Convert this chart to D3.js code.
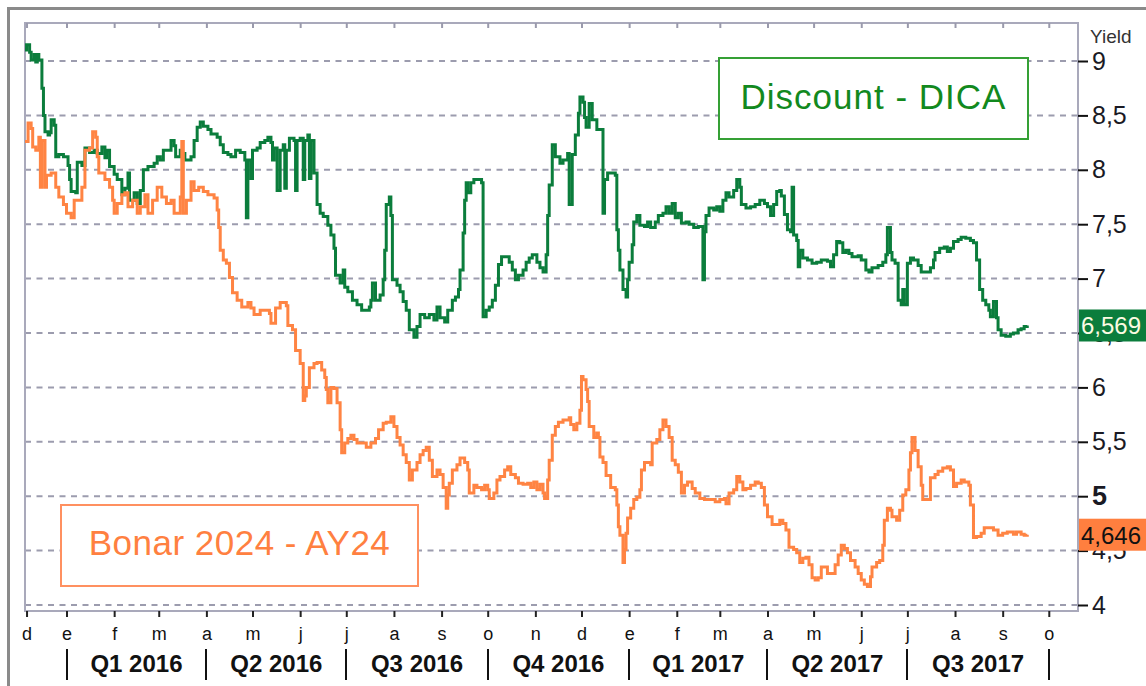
<!DOCTYPE html>
<html>
<head>
<meta charset="utf-8">
<script src="https://cdn.jsdelivr.net/npm/d3@7"></script>
<style>
  body { margin: 0; background: #fff; }
  svg { display: block; font-family: "Liberation Sans", Arial, sans-serif; }
</style>
</head>
<body>
<svg id="svg" width="1146" height="686"></svg>
<script>
/*global d3*/

// [days from 1 Jan 2016, yield %]
const dica = [[-27,9.10],[-26,9.15],[-24,9.08],[-23,9.01],[-21,9.06],[-20,8.99],[-19,9.06],[-18,9.01],[-16,8.75],[-15,8.50],[-14,8.35],[-12,8.32],[-11,8.34],[-10,8.46],[-8,8.41],[-7,8.12],[-5,8.14],[-2,8.12],[1,8.04],[2,7.91],[3,7.80],[6,7.79],[7,8.07],[10,8.04],[12,8.20],[15,8.16],[18,8.18],[20,8.15],[23,8.21],[25,8.11],[26,8.18],[28,8.03],[31,7.96],[33,7.91],[36,7.77],[38,7.83],[40,7.97],[41,7.72],[44,7.79],[46,7.69],[48,7.81],[50,8.00],[53,8.03],[57,8.06],[59,8.12],[61,8.09],[63,8.18],[66,8.18],[68,8.27],[70,8.22],[71,8.12],[74,8.18],[75,8.15],[77,8.09],[81,8.12],[83,8.27],[85,8.39],[87,8.44],[89,8.40],[92,8.37],[94,8.33],[98,8.30],[100,8.23],[102,8.16],[105,8.14],[107,8.12],[110,8.18],[113,8.16],[115,8.16],[116,8.09],[117,7.56],[118,8.09],[120,7.92],[121,8.18],[124,8.20],[126,8.25],[129,8.27],[131,8.30],[133,8.25],[134,8.09],[135,8.20],[137,7.81],[139,8.18],[141,8.23],[142,7.83],[143,8.18],[145,8.29],[148,8.27],[149,7.81],[150,8.27],[152,8.29],[154,7.91],[155,8.27],[157,8.32],[158,7.92],[159,8.27],[161,7.97],[163,7.68],[165,7.60],[167,7.57],[170,7.49],[172,7.40],[174,7.28],[175,7.03],[178,6.96],[180,7.08],[181,6.92],[183,6.88],[186,6.80],[189,6.76],[192,6.71],[195,6.71],[197,6.74],[198,6.80],[199,6.96],[201,6.80],[204,6.85],[206,6.99],[207,7.26],[208,7.68],[210,7.75],[211,7.58],[212,6.99],[215,6.94],[217,6.88],[219,6.79],[221,6.71],[223,6.53],[226,6.46],[228,6.56],[230,6.67],[233,6.64],[236,6.67],[239,6.62],[241,6.74],[243,6.64],[246,6.60],[248,6.71],[251,6.80],[253,6.83],[255,6.90],[256,7.08],[258,7.42],[259,7.72],[260,7.88],[261,7.79],[263,7.88],[265,7.91],[267,7.91],[270,7.88],[271,6.65],[273,6.71],[275,6.74],[277,6.80],[279,6.94],[281,7.13],[283,7.20],[286,7.20],[288,7.15],[290,7.08],[292,6.99],[294,7.03],[297,7.08],[299,7.15],[301,7.19],[303,7.22],[306,7.15],[308,7.10],[310,7.06],[312,7.22],[313,7.58],[314,7.86],[316,8.23],[318,8.12],[321,8.06],[323,8.09],[326,8.15],[327,7.68],[329,8.14],[331,8.32],[333,8.52],[334,8.67],[336,8.62],[337,8.48],[338,8.39],[340,8.61],[342,8.46],[345,8.37],[347,8.37],[349,7.60],[350,7.91],[352,7.97],[356,7.97],[357,7.95],[358,7.45],[359,7.26],[360,7.08],[362,6.90],[364,6.83],[365,6.99],[366,7.15],[368,7.31],[369,7.52],[371,7.58],[373,7.49],[376,7.48],[378,7.52],[380,7.47],[383,7.52],[385,7.58],[388,7.60],[390,7.66],[392,7.60],[394,7.69],[396,7.56],[398,7.60],[400,7.51],[403,7.52],[405,7.50],[408,7.47],[411,7.48],[413,7.48],[414,6.99],[415,7.43],[416,7.58],[418,7.65],[421,7.63],[423,7.66],[425,7.62],[427,7.72],[429,7.79],[431,7.75],[434,7.81],[436,7.91],[438,7.84],[439,7.68],[442,7.65],[445,7.66],[448,7.68],[451,7.72],[454,7.69],[456,7.66],[458,7.58],[460,7.68],[462,7.80],[464,7.81],[465,7.76],[467,7.59],[469,7.45],[471,7.43],[472,7.84],[473,7.40],[475,7.35],[476,7.11],[477,7.26],[479,7.19],[482,7.17],[485,7.14],[488,7.15],[491,7.17],[495,7.16],[497,7.11],[499,7.22],[501,7.34],[503,7.33],[505,7.24],[507,7.26],[509,7.23],[511,7.20],[515,7.21],[517,7.17],[520,7.08],[522,7.06],[524,7.10],[528,7.12],[531,7.15],[533,7.22],[534,7.47],[536,7.24],[537,7.17],[539,7.14],[541,6.80],[543,6.76],[544,6.90],[545,6.76],[547,7.14],[549,7.19],[551,7.17],[554,7.12],[556,7.06],[559,7.06],[562,7.10],[564,7.17],[565,7.24],[568,7.28],[571,7.29],[573,7.25],[575,7.28],[577,7.34],[580,7.36],[582,7.38],[585,7.37],[588,7.35],[590,7.33],[592,7.17],[594,6.90],[596,6.80],[598,6.76],[600,6.71],[601,6.65],[603,6.79],[605,6.64],[606,6.53],[608,6.48],[611,6.47],[614,6.49],[616,6.50],[619,6.53],[621,6.54],[623,6.56],[625,6.569]];

const ay24 = [[-27,8.26],[-25,8.43],[-23,8.38],[-22,8.21],[-20,8.18],[-18,8.30],[-17,7.84],[-16,8.27],[-14,7.84],[-13,7.95],[-10,7.97],[-7,7.84],[-5,7.75],[-2,7.68],[0,7.60],[3,7.56],[5,7.72],[8,7.72],[10,7.84],[12,8.18],[15,8.20],[17,8.35],[19,8.30],[20,8.12],[21,7.97],[25,7.91],[28,7.84],[30,7.72],[31,7.60],[33,7.69],[36,7.77],[38,7.79],[40,7.66],[43,7.72],[46,7.60],[48,7.66],[51,7.77],[53,7.60],[56,7.72],[59,7.84],[62,7.75],[65,7.69],[68,7.72],[70,7.60],[74,7.75],[75,8.26],[76,7.60],[78,7.72],[81,7.89],[83,7.81],[86,7.84],[89,7.80],[92,7.77],[96,7.74],[98,7.63],[99,7.47],[100,7.26],[102,7.17],[104,7.14],[106,7.01],[108,6.87],[111,6.80],[114,6.74],[118,6.78],[120,6.73],[122,6.67],[126,6.71],[129,6.71],[132,6.68],[133,6.59],[136,6.73],[139,6.78],[143,6.75],[144,6.57],[147,6.53],[149,6.34],[152,6.22],[154,5.88],[155,5.92],[156,6.00],[158,6.18],[161,6.22],[163,6.23],[166,6.16],[168,6.09],[169,5.98],[170,5.86],[172,6.00],[174,5.99],[176,5.86],[178,5.61],[179,5.40],[181,5.49],[183,5.53],[185,5.56],[187,5.52],[189,5.49],[193,5.49],[195,5.45],[198,5.49],[201,5.53],[203,5.61],[206,5.67],[208,5.68],[211,5.73],[213,5.64],[215,5.54],[217,5.47],[219,5.38],[221,5.31],[223,5.15],[225,5.24],[228,5.31],[230,5.38],[232,5.42],[234,5.45],[236,5.33],[238,5.18],[241,5.24],[243,5.20],[245,5.08],[247,4.89],[248,5.01],[249,5.12],[251,5.24],[254,5.29],[256,5.35],[259,5.31],[261,5.24],[262,5.03],[265,5.10],[267,5.08],[270,5.06],[272,5.10],[274,5.06],[275,4.98],[278,5.03],[280,5.15],[282,5.18],[285,5.24],[287,5.27],[289,5.20],[292,5.17],[294,5.12],[297,5.11],[300,5.12],[302,5.08],[304,5.13],[306,5.06],[308,5.11],[310,5.03],[311,4.98],[313,5.15],[314,5.33],[316,5.56],[318,5.64],[320,5.68],[323,5.70],[327,5.72],[328,5.66],[330,5.61],[332,5.67],[334,5.79],[335,6.10],[336,6.07],[338,5.98],[339,5.87],[340,5.64],[343,5.54],[345,5.58],[346,5.54],[347,5.36],[349,5.31],[351,5.19],[354,5.08],[357,5.06],[358,4.92],[359,4.72],[360,4.64],[362,4.39],[363,4.51],[364,4.66],[365,4.80],[367,4.89],[369,4.97],[371,4.99],[373,5.06],[374,5.24],[376,5.31],[378,5.31],[380,5.29],[381,5.49],[384,5.52],[386,5.61],[388,5.70],[390,5.64],[392,5.54],[394,5.33],[396,5.29],[398,5.22],[400,5.03],[402,5.10],[404,5.13],[407,5.07],[409,5.03],[412,4.98],[415,4.97],[418,4.97],[422,4.95],[425,4.97],[428,4.98],[429,4.93],[431,5.03],[434,5.06],[436,5.18],[438,5.13],[440,5.06],[442,5.07],[445,5.10],[448,5.13],[450,5.12],[452,5.08],[454,4.92],[456,4.81],[459,4.74],[461,4.74],[464,4.78],[466,4.75],[468,4.69],[470,4.53],[473,4.51],[475,4.48],[477,4.39],[479,4.43],[481,4.44],[483,4.37],[485,4.25],[487,4.23],[489,4.25],[491,4.35],[493,4.35],[495,4.29],[498,4.29],[500,4.37],[502,4.46],[504,4.55],[506,4.52],[508,4.48],[510,4.41],[513,4.35],[515,4.29],[517,4.23],[519,4.19],[521,4.17],[523,4.26],[524,4.35],[527,4.39],[529,4.41],[531,4.55],[532,4.78],[534,4.89],[536,4.87],[537,4.81],[540,4.78],[542,4.87],[544,5.01],[546,5.06],[548,5.24],[549,5.40],[550,5.54],[552,5.42],[554,5.27],[556,5.10],[557,4.97],[560,4.97],[562,5.17],[565,5.20],[567,5.23],[570,5.26],[573,5.27],[575,5.24],[577,5.09],[579,5.12],[582,5.15],[584,5.13],[587,5.10],[588,4.92],[590,4.62],[592,4.63],[595,4.66],[597,4.71],[601,4.71],[603,4.69],[606,4.64],[609,4.66],[612,4.67],[616,4.65],[618,4.67],[621,4.65],[623,4.64],[625,4.646]];

const yTicks = [4, 4.5, 5, 5.5, 6, 6.5, 7, 7.5, 8, 8.5, 9];
const monthInitials = ["e", "f", "m", "a", "m", "j", "j", "a", "s", "o", "n", "d"];
const quarterLabels = ["Q1 2016", "Q2 2016", "Q3 2016", "Q4 2016", "Q1 2017", "Q2 2017", "Q3 2017"];
const seriesNames = ["Discount - DICA", "Bonar 2024 - AY24"];

const svg = d3.select("#svg");
const width = 1146;
const height = 686;
const plot = {left: 25, top: 23, right: 1078, bottom: 611};

const green = "#0b7d3c";
const orange = "#ff8443";

const base = new Date(2016, 0, 1);
const toDate = d => d3.timeDay.offset(base, d);

const x = d3.scaleTime()
    .domain([new Date(2015, 11, 5), new Date(2017, 9, 20)])
    .range([plot.left, plot.right]);

const y = d3.scaleLinear()
    .domain([4, 9])
    .range([605, 61]);

const loc = d3.formatLocale({decimal: ",", thousands: ".", grouping: [3], currency: ["$", ""]});
const fmtTick = loc.format(".1~f");
const fmtLast = loc.format(".3f");

// outer frame
svg.append('rect')
    .attr('x', 8.5).attr('y', 8.5)
    .attr('width', width).attr('height', height)
    .attr('fill', 'none')
    .attr('stroke', '#8a8a8a')
    .attr('stroke-width', 3);

// dashed grid
svg.append('g').selectAll('line').data(yTicks)
    .enter().append('line')
    .attr('x1', plot.left).attr('x2', plot.right)
    .attr('y1', d => y(d)).attr('y2', d => y(d))
    .attr('stroke', '#9c9cae')
    .attr('stroke-width', 2)
    .attr('stroke-dasharray', '6,5.5');

// plot frame
svg.append('rect')
    .attr('x', plot.left).attr('y', plot.top)
    .attr('width', plot.right - plot.left)
    .attr('height', plot.bottom - plot.top)
    .attr('fill', 'none')
    .attr('stroke', '#a9a9bb')
    .attr('stroke-width', 2);

// legend boxes
const legends = [
    {name: seriesNames[0], text: '#12891e', border: '#35a035', x: 719, y: 58, w: 309, h: 81, dy: 10, spacing: 1},
    {name: seriesNames[1], text: '#ff8040', border: '#ff9060', x: 61, y: 505, w: 357, h: 81, dy: 9, spacing: 0.5}
];
const lg = svg.append('g').selectAll('g').data(legends).enter().append('g');
lg.append('rect')
    .attr('x', d => d.x).attr('y', d => d.y)
    .attr('width', d => d.w).attr('height', d => d.h)
    .attr('fill', '#fff')
    .attr('stroke', d => d.border)
    .attr('stroke-width', 2);
lg.append('text')
    .attr('x', d => d.x + d.w / 2)
    .attr('y', d => d.y + d.h / 2 + d.dy)
    .attr('text-anchor', 'middle')
    .attr('font-size', 35)
    .attr('letter-spacing', d => d.spacing)
    .attr('fill', d => d.text)
    .text(d => d.name);

// month ticks
const monthTicks = [new Date(2015, 11, 6)].concat(d3.timeMonth.range(new Date(2016, 0, 1), new Date(2017, 9, 2)));

const xAxis = d3.axisBottom(x)
    .tickValues(monthTicks)
    .tickSize(6)
    .tickPadding(10)
    .tickFormat(d => monthInitials[d.getMonth()]);

const xAxisG = svg.append('g')
    .attr('transform', `translate(0,${plot.bottom})`)
    .call(xAxis)
    .attr('font-family', null)
    .attr('font-size', 18);
xAxisG.select('.domain').remove();
xAxisG.selectAll('.tick line').attr('stroke', '#222').attr('stroke-width', 2);
xAxisG.selectAll('.tick text').attr('fill', '#111');

const topAxisG = svg.append('g')
    .attr('transform', `translate(0,${plot.top})`)
    .call(d3.axisBottom(x).tickValues(monthTicks).tickSize(5).tickFormat(''));
topAxisG.select('.domain').remove();
topAxisG.selectAll('.tick line').attr('stroke', '#9a9aac').attr('stroke-width', 2);

// quarters
const quarterStarts = d3.timeMonth.every(3).range(new Date(2016, 0, 1), new Date(2017, 9, 2));
svg.append('g').selectAll('line').data(quarterStarts)
    .enter().append('line')
    .attr('x1', d => Math.round(x(d))).attr('x2', d => Math.round(x(d)))
    .attr('y1', 649).attr('y2', 680)
    .attr('stroke', '#111')
    .attr('stroke-width', 2);
svg.append('g').selectAll('text').data(quarterLabels)
    .enter().append('text')
    .attr('x', (d, i) => (x(quarterStarts[i]) + x(quarterStarts[i + 1])) / 2)
    .attr('y', 672)
    .attr('text-anchor', 'middle')
    .attr('font-size', 24)
    .attr('font-weight', 'bold')
    .attr('fill', '#111')
    .text(d => d);

// y axis on the right
const yAxis = d3.axisRight(y)
    .tickValues(yTicks)
    .tickSize(10)
    .tickPadding(4)
    .tickFormat(fmtTick);
const yAxisG = svg.append('g')
    .attr('transform', `translate(${plot.right},0)`)
    .call(yAxis)
    .attr('font-family', null)
    .attr('font-size', 25);
yAxisG.select('.domain').remove();
yAxisG.selectAll('.tick line').attr('stroke', '#111').attr('stroke-width', 2);
yAxisG.selectAll('.tick text')
    .attr('fill', '#1a1a24')
    .attr('font-weight', d => d === 5 ? 'bold' : null)
    .attr('font-size', d => d === 5 ? 27 : null);

svg.append('text')
    .attr('x', 1090).attr('y', 43)
    .attr('font-size', 19)
    .attr('fill', '#333')
    .text('Yield');

// lines
const line = d3.line()
    .x(d => x(toDate(d[0])))
    .y(d => y(d[1]))
    .curve(d3.curveStepAfter);

const series = [
    {data: dica, color: green, tag: '#0b7d3c', tagText: '#fbfbe2'},
    {data: ay24, color: orange, tag: '#ff7f3f', tagText: '#111'}
];

svg.append('g').selectAll('path').data(series)
    .enter().append('path')
    .attr('d', d => line(d.data))
    .attr('fill', 'none')
    .attr('stroke', d => d.color)
    .attr('stroke-width', 3);

// last value tags sit over the axis labels, as in the terminal screenshot
const tags = svg.append('g').selectAll('g').data(series).enter().append('g')
    .attr('transform', d => `translate(${plot.right + 1},${y(d.data[d.data.length - 1][1])})`);
tags.append('rect')
    .attr('x', 0).attr('y', -16)
    .attr('width', 70).attr('height', 32)
    .attr('fill', d => d.tag);
tags.append('text')
    .attr('x', 2).attr('y', 9)
    .attr('font-size', 24)
    .attr('fill', d => d.tagText)
    .text(d => fmtLast(d.data[d.data.length - 1][1]));
</script>
</body>
</html>
